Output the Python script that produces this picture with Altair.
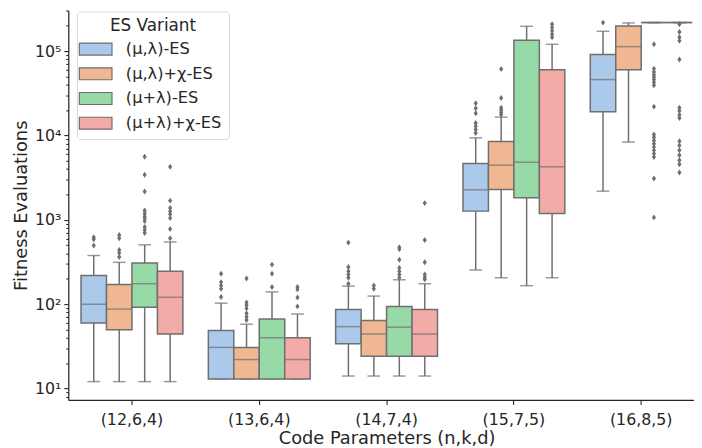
import altair as alt
import pandas as pd

groups = ["(12,6,4)", "(13,6,4)", "(14,7,4)", "(15,7,5)", "(16,8,5)"]
variants = ["(μ,λ)-ES", "(μ,λ)+χ-ES", "(μ+λ)-ES", "(μ+λ)+χ-ES"]
colors = ["#abc9ea", "#efb792", "#98daa7", "#f3aba8"]
gray = "#6f6f6f"

# box statistics per variant, one value per group
whisker_lo = {
    variants[0]: [12.1, 13.0, 14.1, 255, 2190],
    variants[1]: [12.1, 13.0, 14.1, 206, 8360],
    variants[2]: [12.1, 13.0, 14.1, 166, 218000],
    variants[3]: [12.1, 13.0, 14.1, 206, 218000],
}
q1 = {
    variants[0]: [60, 13.0, 34.1, 1270, 19100],
    variants[1]: [49.8, 13.0, 24.2, 2290, 60300],
    variants[2]: [91.9, 13.0, 24.2, 1830, 218000],
    variants[3]: [44.3, 13.0, 24.2, 1190, 218000],
}
median = {
    variants[0]: [100, 30.8, 54.3, 2270, 46000],
    variants[1]: [87.7, 22.1, 44.3, 4460, 113000],
    variants[2]: [175, 40.1, 53.5, 4830, 218000],
    variants[3]: [121, 22.1, 44.3, 4260, 218000],
}
q3 = {
    variants[0]: [219, 48.9, 86.9, 4650, 91200],
    variants[1]: [171, 30.8, 64, 8510, 199000],
    variants[2]: [309, 67, 94.2, 135000, 218000],
    variants[3]: [246, 40.1, 86.9, 60300, 218000],
}
whisker_hi = {
    variants[0]: [378, 103, 164, 9380, 172000],
    variants[1]: [314, 58, 125, 16500, 216000],
    variants[2]: [506, 140, 195, 197000, 218000],
    variants[3]: [548, 76.6, 175, 120600, 218000],
}
outliers = {
    variants[0]: [
        [622, 589, 496],
        [230, 183, 167, 153, 122],
        [538, 277, 246, 225, 206, 175],
        [24100, 21000, 18400, 14100, 12900, 11800, 10700],
        [218000],
    ],
    variants[1]: [
        [662, 605, 441, 404, 363],
        [202, 105, 97.6, 89.3, 78, 71.1, 65.2],
        [167, 153],
        [61400, 27900, 21400, 20100, 18700, 17600],
        [],
    ],
    variants[2]: [
        [5610, 3430, 2170, 1290, 1190, 1100, 1040, 966, 822, 757, 698],
        [295, 230, 160],
        [475, 450, 337, 270, 246, 225, 206],
        [],
        [121000, 62000, 56600, 52600, 49400, 46000, 42900, 39500, 22000,
         10300, 9560, 8740, 7980, 7290, 6670, 6090, 5570, 3100, 1070],
    ],
    variants[3]: [
        [4260, 1690, 1380, 1270, 1170, 1050, 778, 605],
        [160, 150, 120, 94.3],
        [1580, 578, 314, 225, 209, 197],
        [208000, 190000, 174000, 159000, 146000],
        [208000, 169000, 146000, 133000, 79800, 21400, 19600, 17600, 16100,
         8570, 7640, 6670, 5830, 5090, 4570, 3650],
    ],
}

rows = []
for v in variants:
    for gi, g in enumerate(groups):
        rows.append(dict(group=g, variant=v, lo=whisker_lo[v][gi], q1=q1[v][gi],
                         med=median[v][gi], q3=q3[v][gi], hi=whisker_hi[v][gi]))
box_df = pd.DataFrame(rows)

orows = []
for v in variants:
    for gi, g in enumerate(groups):
        for val in outliers[v][gi]:
            orows.append(dict(group=g, variant=v, value=val))
out_df = pd.DataFrame(orows)

tick_values = [m * 10 ** e for e in range(0, 6) for m in range(1, 10)]
tick_values = [t for t in tick_values if 7.33 <= t <= 3.03e5]
decade_test = "abs(log(datum.value)/LN10 - round(log(datum.value)/LN10)) < 0.000001"

yscale = alt.Scale(type="log", domain=[7.33, 3.03e5], nice=False)
yaxis = alt.Axis(
    title="Fitness Evaluations",
    values=tick_values,
    labelExpr="(" + decade_test + ") ? '10' + ['⁰','¹','²','³','⁴','⁵','⁶'][round(log(datum.value)/LN10)] : ''",
    tickSize={"condition": {"test": decade_test, "value": 4.5}, "value": 2.5},
    grid=False,
    labelFontSize=16,
    labelPadding=3,
    titleFontSize=18,
    titlePadding=4,
)
xscale = alt.Scale(range=[0, 644], paddingInner=0.2, paddingOuter=0.1)
xaxis = alt.Axis(
    title="Code Parameters (n,k,d)",
    labelAngle=0,
    labelFontSize=16,
    labelPadding=7,
    tickSize=4.5,
    titleFontSize=18,
    titlePadding=3,
    titleX=322,
    grid=False,
)

def X():
    return alt.X("group:N", sort=groups, scale=xscale, axis=xaxis)

def XO():
    return alt.XOffset("variant:N", sort=variants,
                       scale=alt.Scale(paddingInner=0, paddingOuter=0))

def Y(field):
    return alt.Y(field, scale=yscale, axis=yaxis)

base = alt.Chart(box_df)

wlo = base.mark_rule(color=gray, strokeWidth=1.5).encode(x=X(), xOffset=XO(), y=Y("lo:Q"), y2="q1:Q")
whi = base.mark_rule(color=gray, strokeWidth=1.5).encode(x=X(), xOffset=XO(), y=Y("q3:Q"), y2="hi:Q")
clo = base.mark_tick(color=gray, size=12.9, thickness=1.5, orient="horizontal").encode(x=X(), xOffset=XO(), y=Y("lo:Q"))
chi = base.mark_tick(color=gray, size=12.9, thickness=1.5, orient="horizontal").encode(x=X(), xOffset=XO(), y=Y("hi:Q"))

patch_path = "M-1.5,-0.55H1.5V0.55H-1.5Z"
box = base.mark_bar(stroke=gray, strokeWidth=1.5, opacity=1).encode(
    x=X(), xOffset=XO(), y=Y("q1:Q"), y2="q3:Q",
    color=alt.Color(
        "variant:N", sort=variants,
        scale=alt.Scale(domain=variants, range=colors),
        legend=alt.Legend(
            title="ES Variant",
            orient="none",
            legendX=8.7,
            legendY=1,
            symbolType=patch_path,
            symbolSize=484,
            symbolStrokeColor=gray,
            symbolStrokeWidth=1.2,
            symbolOpacity=1,
            labelFontSize=16.4,
            labelOffset=18.5,
            labelColor="#262626",
            titleFontSize=17,
            titleFontWeight="normal",
            titleColor="#262626",
            titleAnchor="middle",
            titlePadding=2,
            rowPadding=4,
            padding=7,
            fillColor="rgba(255,255,255,0.8)",
            strokeColor="#d9d9d9",
            cornerRadius=4,
        ),
    ),
)
med = base.mark_tick(color=gray, size=25.8, thickness=1.5, orient="horizontal").encode(x=X(), xOffset=XO(), y=Y("med:Q"))

outl = alt.Chart(out_df).mark_point(
    shape="M0,-1L0.7,0L0,1L-0.7,0Z", filled=True, size=36, color=gray, opacity=1
).encode(x=X(), xOffset=XO(), y=Y("value:Q"))

chart = alt.layer(wlo, whi, clo, chi, box, med, outl).properties(
    width=633,
    height=394,
    autosize=alt.AutoSizeParams(type="none"),
    padding={"left": 61, "top": 0, "right": 0, "bottom": 46},
    background="white",
).configure_view(stroke=None).configure_axis(
    labelFont="DejaVu Sans",
    titleFont="DejaVu Sans",
    labelColor="#262626",
    titleColor="#262626",
    titleFontWeight="normal",
    domainColor="#262626",
    tickColor="#262626",
    domainWidth=1.25,
    tickWidth=1.1,
).configure_legend(
    labelFont="DejaVu Sans",
    titleFont="DejaVu Sans",
)

chart.save("out.html", embed_options={"renderer": "svg", "actions": False})
